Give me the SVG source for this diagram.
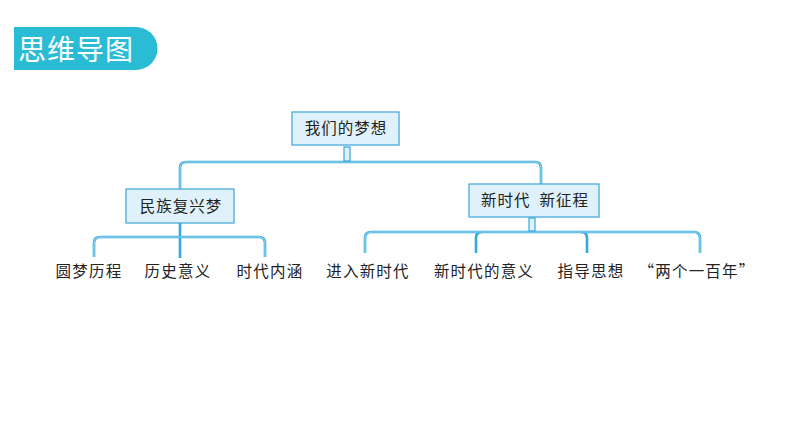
<svg xmlns="http://www.w3.org/2000/svg" width="794" height="447" viewBox="0 0 794 447">
<style>
.box{fill:#dff1fa;stroke:#4aaad9;stroke-width:1.3}
.bt{font-family:"Noto Sans CJK SC","Noto Sans",sans-serif;font-size:15.5px;fill:#222;text-anchor:middle;letter-spacing:1px}
.lb{font-family:"Noto Sans CJK SC","Noto Sans",sans-serif;font-size:15.5px;fill:#222;text-anchor:middle;letter-spacing:1.2px}
.c{fill:none;stroke:#33a9dc;stroke-width:2.6;stroke-linejoin:round}
.ci{fill:none;stroke:#c4e8f7;stroke-width:0.8}
.tab{fill:#dff1fa;stroke:#33a9dc;stroke-width:1.2}
</style>
<rect width="794" height="447" fill="#ffffff"/>
<g id="title">
<path d="M14,27 H136 A21.5,21.5 0 0 1 136,70 H14 Z" fill="#2bbcd5"/>
<text x="76" y="60" font-family="Noto Sans CJK SC,sans-serif" font-size="28" fill="#ffffff" text-anchor="middle" letter-spacing="1">思维导图</text>
</g>
<g id="connectors">
<g class="c">
<path d="M180,189 V168 Q180,162 186,162 H535 Q541,162 541,168 V184"/>
<path d="M180,223 V258"/>
<path d="M94,257 V243 Q94,237 100,237 H259 Q265,237 265,243 V257"/>
<path d="M365,253 V238 Q365,232 371,232 H694 Q700,232 700,238 V253"/>
<path d="M476,253 V238 Q476,232 482,232"/>
<path d="M587,253 V238 Q587,232 581,232"/>
</g>
<g class="ci">
<path d="M180,189 V168 Q180,162 186,162 H535 Q541,162 541,168 V184"/>
<path d="M94,257 V243 Q94,237 100,237 H259 Q265,237 265,243 V257"/>
<path d="M365,253 V238 Q365,232 371,232 H694 Q700,232 700,238 V253"/>
</g>
<rect class="tab" x="344" y="147" width="6" height="14"/>
<rect class="tab" x="529" y="218" width="6" height="13"/>
</g>
<g id="root">
<rect class="box" x="292" y="112" width="107" height="33"/>
<text class="bt" x="346" y="134">我们的梦想</text>
</g>
<g id="mzfxm">
<rect class="box" x="126" y="189" width="108" height="34"/>
<text class="bt" x="181" y="212">民族复兴梦</text>
</g>
<g id="xsd">
<rect class="box" x="469" y="184" width="130" height="33"/>
<text class="bt" x="535" y="206">新时代&#160; 新征程</text>
</g>
<g id="l1"><text class="lb" x="89" y="277">圆梦历程</text></g>
<g id="l2"><text class="lb" x="178" y="277">历史意义</text></g>
<g id="l3"><text class="lb" x="270" y="277">时代内涵</text></g>
<g id="l4"><text class="lb" x="368" y="277">进入新时代</text></g>
<g id="l5"><text class="lb" x="484" y="277">新时代的意义</text></g>
<g id="l6"><text class="lb" x="591" y="277">指导思想</text></g>
<g id="l7"><text class="lb" x="697" y="277">“两个一百年”</text></g>
</svg>
